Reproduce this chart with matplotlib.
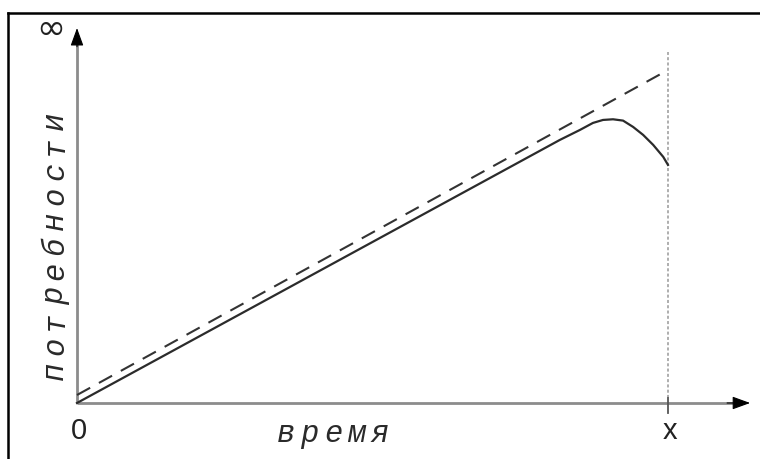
import matplotlib.pyplot as plt
from matplotlib.lines import Line2D

plt.rcParams['lines.scale_dashes'] = False

# chart data (time, needs) in arbitrary units, x mark at time 10
limit_t = [0, 10]
limit_needs = [0.24, 10.0]

curve_t = [0, 8.17, 8.51, 8.73, 8.90, 9.07, 9.24, 9.41, 9.58, 9.75, 9.92, 10]
curve_needs = [0, 7.90, 8.20, 8.41, 8.50, 8.52, 8.48, 8.29, 8.05, 7.75, 7.39, 7.15]

x_mark = 10
x_label = "время"
y_label = "потребности"

fig = plt.figure(figsize=(7.6, 4.59), dpi=100)
ax = fig.add_axes([0, 0, 1, 1])
ax.set_xlim(-1.303, 11.557)
ax.set_ylim(-1.682, 12.102)
ax.axis('off')

# frame (top and left only)
fig.add_artist(Line2D([0.0105, 1], [0.9717, 0.9717], transform=fig.transFigure, color='black', lw=1.8))
fig.add_artist(Line2D([0.0105, 0.0105], [0, 0.9717], transform=fig.transFigure, color='black', lw=1.8))

# axes with arrows
axis_col = '#8c8c8c'
ax.plot([0, 0], [0, 10.8], color=axis_col, lw=2, solid_capstyle='butt')
ax.plot([0, 11.1], [0, 0], color=axis_col, lw=2, solid_capstyle='butt')
head = dict(arrowstyle='-|>,head_length=11,head_width=4', color='black', lw=0.8,
            mutation_scale=1, shrinkA=0, shrinkB=0)
ax.annotate('', xy=(0, 11.26), xytext=(0, 10.7), arrowprops=head)
ax.annotate('', xy=(11.39, 0), xytext=(11.0, 0), arrowprops=head)

# limit at x
ax.plot([x_mark, x_mark], [0.15, 10.54], color='#999999', lw=1.1, dashes=(2.2, 1.6))
ax.plot([x_mark, x_mark], [0.15, -0.3], color='#555555', lw=1.3)

# lines
ax.plot(limit_t, limit_needs, color='#333333', lw=1.5, dashes=(10.8, 7.2))
ax.plot(curve_t, curve_needs, color='#2b2b2b', lw=1.6)

# labels
ax.text(0.03, -0.84, "0", fontsize=21, family='Liberation Sans', ha='center', va='center', color='#222222')
ax.text(x_mark + 0.03, -0.84, "x", fontsize=21, family='Liberation Sans', ha='center', va='center', color='#222222')
ax.text(-0.44, 11.23, "∞", fontsize=25, family='DejaVu Sans', ha='center', va='center', color='#222222')

for i, ch in enumerate(x_label):
    ax.text(3.54 + i * 0.396, -1.17, ch, fontsize=22, family='Liberation Mono', style='italic',
            ha='center', va='baseline', color='#2a2a2a')

for i, ch in enumerate(y_label):
    ax.text(-0.237, 0.96 + i * 0.75, ch, fontsize=22, family='Liberation Mono', style='italic',
            rotation=90, rotation_mode='anchor', ha='center', va='baseline', color='#2a2a2a')

fig.savefig('out.png', dpi=100)
